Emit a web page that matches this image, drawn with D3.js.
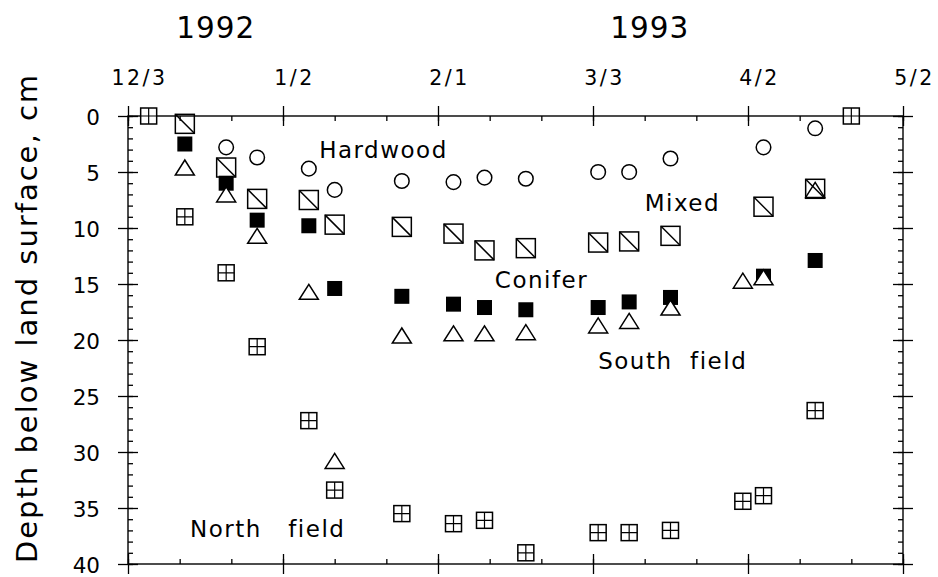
<!DOCTYPE html>
<html>
<head>
<meta charset="utf-8">
<script src="https://cdn.jsdelivr.net/npm/d3@7"></script>
<style>
  html, body { margin: 0; padding: 0; background: #fff; }
  svg { display: block; }
  text { font-family: "DejaVu Sans", "Open Sans", sans-serif; fill: #000; }
</style>
</head>
<body>
<svg id="chart" width="938" height="577"></svg>
<script>
// Sampling dates (water-table readings)
const sampleDates = [
  "1992-12-07", "1992-12-14", "1992-12-22", "1992-12-28",
  "1993-01-07", "1993-01-12", "1993-01-25", "1993-02-04",
  "1993-02-10", "1993-02-18", "1993-03-04", "1993-03-10",
  "1993-03-18", "1993-04-01", "1993-04-05", "1993-04-15",
  "1993-04-22"
];

// Depth below land surface (cm) for each site; null = no reading
const hardwood   = [null, null, 2.8, 3.7, 4.7, 6.6, 5.8, 5.9, 5.5, 5.6, 5.0, 5.0, 3.8, null, 2.8, 1.1, null];
const mixed      = [null, 0.7, 4.6, 7.4, 7.5, 9.7, 9.9, 10.5, 12.0, 11.8, 11.3, 11.2, 10.7, null, 8.1, 6.5, null];
const conifer    = [null, 2.5, 6.0, 9.3, 9.8, 15.4, 16.1, 16.8, 17.1, 17.3, 17.1, 16.6, 16.2, null, 14.3, 12.9, null];
const southField = [null, 4.6, 7.0, 10.7, 15.7, 30.8, 19.6, 19.4, 19.4, 19.3, 18.7, 18.3, 17.1, 14.7, 14.4, 6.6, null];
const northField = [0, 9.0, 14.0, 20.6, 27.2, 33.4, 35.5, 36.4, 36.1, 39.0, 37.2, 37.2, 37.0, 34.4, 33.9, 26.3, 0];

// Axis ticks
const xTickDates  = ["1992-12-03", "1993-01-02", "1993-02-01", "1993-03-03", "1993-04-02", "1993-05-02"];
const xTickLabels = ["12/3", "1/2", "2/1", "3/3", "4/2", "5/2"];
const yTicks      = [0, 5, 10, 15, 20, 25, 30, 35, 40];
const yearLabels  = ["1992", "1993"];
const yearDates   = ["1992-12-20", "1993-03-14"];

// Site labels written inside the plot, anchored at (date, depth)
const siteLabels = ["Hardwood", "Mixed", "Conifer", "South  field", "North   field"];
const siteLabelDates  = ["1993-01-09", "1993-03-13", "1993-02-12", "1993-03-04", "1992-12-15"];
const siteLabelDepths = [3.75, 8.5, 15.4, 22.6, 37.6];

const parse = d3.utcParse("%Y-%m-%d");

const margin = { left: 128, right: 35, top: 116, bottom: 13 };
const W = 938, H = 577;
const x = d3.scaleUtc()
  .domain([parse("1992-12-03"), parse("1993-05-02")])
  .range([margin.left, W - margin.right]);
const y = d3.scaleLinear()
  .domain([0, 40])
  .range([margin.top, H - margin.bottom]);

const svg = d3.select("#chart");
const x0 = x.range()[0], x1 = x.range()[1];
const y0 = y.range()[0], y1 = y.range()[1];

// Minor ticks: every 10 days along x, every 1 cm along y
const xMinor = d3.utcDay.range(parse("1992-12-03"), parse("1993-05-03"), 1)
  .filter((d, i) => i % 10 === 0);
const yMinor = d3.range(0, 41, 1);

function styleAxis(g) {
  g.selectAll("path.domain").remove();
  g.selectAll("line").attr("stroke", "#000").attr("stroke-width", 1.3);
}

// Frame
svg.append("rect")
  .attr("x", x0).attr("y", y0)
  .attr("width", x1 - x0).attr("height", y1 - y0)
  .attr("fill", "none").attr("stroke", "#000").attr("stroke-width", 1.4);

const majorX = xTickDates.map(parse);

// Top axis with labels
const topAxis = svg.append("g").attr("transform", `translate(0,${y0})`)
  .call(d3.axisTop(x).tickValues(majorX).tickSize(10).tickPadding(21)
    .tickFormat((d, i) => xTickLabels[i]))
  .call(styleAxis);
topAxis.selectAll("text")
  .attr("font-size", 20.5).attr("dx", 11).attr("letter-spacing", 2.5);
svg.append("g").attr("transform", `translate(0,${y0})`)
  .call(d3.axisTop(x).tickValues(majorX).tickSize(-10).tickFormat(""))
  .call(styleAxis);
svg.append("g").attr("transform", `translate(0,${y0})`)
  .call(d3.axisTop(x).tickValues(xMinor).tickSize(-5).tickFormat(""))
  .call(styleAxis);

// Bottom axis (ticks only)
[10, -10].forEach(s => {
  svg.append("g").attr("transform", `translate(0,${y1})`)
    .call(d3.axisBottom(x).tickValues(majorX).tickSize(s).tickFormat(""))
    .call(styleAxis);
});
svg.append("g").attr("transform", `translate(0,${y1})`)
  .call(d3.axisBottom(x).tickValues(xMinor).tickSize(-5).tickFormat(""))
  .call(styleAxis);

// Left axis with labels
const leftAxis = svg.append("g").attr("transform", `translate(${x0},0)`)
  .call(d3.axisLeft(y).tickValues(yTicks).tickSize(10).tickPadding(18))
  .call(styleAxis);
leftAxis.selectAll("text").attr("font-size", 21.5).attr("dy", "0.38em");
svg.append("g").attr("transform", `translate(${x0},0)`)
  .call(d3.axisLeft(y).tickValues(yTicks).tickSize(-10).tickFormat(""))
  .call(styleAxis);
svg.append("g").attr("transform", `translate(${x0},0)`)
  .call(d3.axisLeft(y).tickValues(yMinor).tickSize(-5).tickFormat(""))
  .call(styleAxis);

// Right axis (ticks only)
[10, -10].forEach(s => {
  svg.append("g").attr("transform", `translate(${x1},0)`)
    .call(d3.axisRight(y).tickValues(yTicks).tickSize(s).tickFormat(""))
    .call(styleAxis);
});
svg.append("g").attr("transform", `translate(${x1},0)`)
  .call(d3.axisRight(y).tickValues(yMinor).tickSize(-5).tickFormat(""))
  .call(styleAxis);

// Year headings
svg.append("g").selectAll("text")
  .data(yearLabels)
  .join("text")
  .attr("x", (d, i) => x(parse(yearDates[i])))
  .attr("y", 38)
  .attr("text-anchor", "middle")
  .attr("font-size", 29.5)
  .attr("letter-spacing", 1)
  .text(d => d);

// Y-axis title
svg.append("text")
  .attr("transform", `translate(37,318) rotate(-90)`)
  .attr("text-anchor", "middle")
  .attr("font-size", 29)
  .attr("letter-spacing", 2)
  .text("Depth below land surface, cm");

// Points
function points(values) {
  return values.map((v, i) => ({ date: parse(sampleDates[i]), depth: v }))
    .filter(d => d.depth !== null);
}

const plot = svg.append("g");
const sw = 1.5;

// Hardwood: open circles
plot.append("g").selectAll("circle")
  .data(points(hardwood))
  .join("circle")
  .attr("cx", d => x(d.date)).attr("cy", d => y(d.depth))
  .attr("r", 7.3)
  .attr("fill", "#fff").attr("stroke", "#000").attr("stroke-width", sw);

// Conifer: filled squares
const fs = 15;
plot.append("g").selectAll("rect")
  .data(points(conifer))
  .join("rect")
  .attr("x", d => x(d.date) - fs / 2).attr("y", d => y(d.depth) - fs / 2)
  .attr("width", fs).attr("height", fs)
  .attr("fill", "#000");

// South field: open triangles
const tw = 19, th = 15;
plot.append("g").selectAll("path")
  .data(points(southField))
  .join("path")
  .attr("d", d => {
    const cx = x(d.date), cy = y(d.depth);
    return `M${cx},${cy - th / 2}L${cx + tw / 2},${cy + th / 2}L${cx - tw / 2},${cy + th / 2}Z`;
  })
  .attr("fill", "#fff").attr("stroke", "#000").attr("stroke-width", sw)
  .attr("stroke-linejoin", "miter");

// Mixed: squares with a diagonal
const ds = 19;
const mixedG = plot.append("g").selectAll("g")
  .data(points(mixed))
  .join("g")
  .attr("transform", d => `translate(${x(d.date)},${y(d.depth)})`);
mixedG.append("rect")
  .attr("x", -ds / 2).attr("y", -ds / 2).attr("width", ds).attr("height", ds)
  .attr("fill", "none").attr("stroke", "#000").attr("stroke-width", sw);
mixedG.append("line")
  .attr("x1", -ds / 2).attr("y1", -ds / 2).attr("x2", ds / 2).attr("y2", ds / 2)
  .attr("stroke", "#000").attr("stroke-width", sw);

// North field: squares with a cross
const gs = 16;
const northG = plot.append("g").selectAll("g")
  .data(points(northField))
  .join("g")
  .attr("transform", d => `translate(${x(d.date)},${y(d.depth)})`);
northG.append("rect")
  .attr("x", -gs / 2).attr("y", -gs / 2).attr("width", gs).attr("height", gs)
  .attr("fill", "#fff").attr("stroke", "#000").attr("stroke-width", sw);
northG.append("path")
  .attr("d", `M${-gs / 2},0H${gs / 2}M0,${-gs / 2}V${gs / 2}`)
  .attr("stroke", "#000").attr("stroke-width", sw * 0.8);

// Site labels
svg.append("g").selectAll("text")
  .data(siteLabels)
  .join("text")
  .attr("x", (d, i) => x(parse(siteLabelDates[i])))
  .attr("y", (d, i) => y(siteLabelDepths[i]))
  .attr("font-size", 23)
  .attr("letter-spacing", 1.5)
  .style("white-space", "pre")
  .text(d => d);
</script>
</body>
</html>
